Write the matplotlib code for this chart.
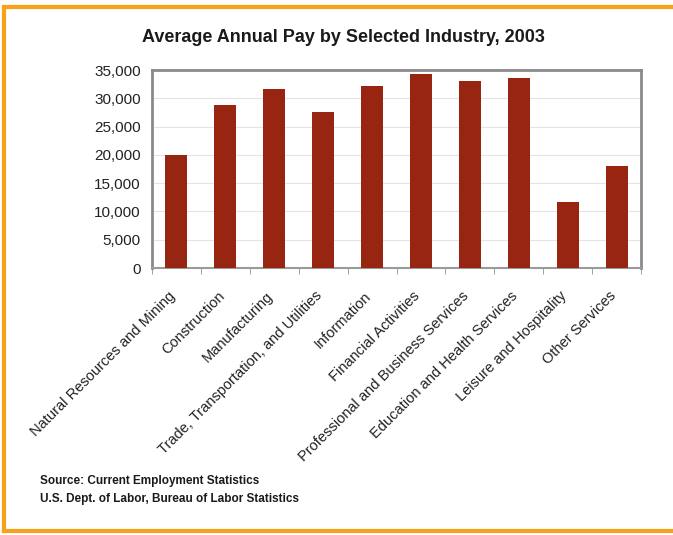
import numpy as np
import matplotlib.pyplot as plt
import matplotlib.transforms as mtransforms
from matplotlib.ticker import FuncFormatter
from matplotlib.lines import Line2D

industries = [
    "Natural Resources and Mining",
    "Construction",
    "Manufacturing",
    "Trade, Transportation, and Utilities",
    "Information",
    "Financial Activities",
    "Professional and Business Services",
    "Education and Health Services",
    "Leisure and Hospitality",
    "Other Services",
]
avg_pay = [19900, 28900, 31600, 27500, 32200, 34300, 33000, 33600, 11600, 18000]
y_ticks = [0, 5000, 10000, 15000, 20000, 25000, 30000, 35000]

plt.rcParams['font.family'] = ['Liberation Sans', 'DejaVu Sans']

fig = plt.figure(figsize=(6.73, 5.35), dpi=100)
ax = fig.add_axes([152 / 673, 1 - 268 / 535, 489 / 673, 198 / 535])

x = np.arange(len(industries))
ax.bar(x, avg_pay, width=0.45, color='#982412', zorder=3)

ax.set_xlim(-0.5, len(industries) - 0.5)
ax.set_ylim(0, 35000)
ax.set_yticks(y_ticks)
ax.yaxis.set_major_formatter(FuncFormatter(lambda v, p: f"{int(v):,}"))
ax.tick_params(axis='y', length=0, labelsize=11, pad=8, colors='#222222')
ax.grid(axis='y', color='#e4e4e4', linewidth=0.8, zorder=0)

# category labels at the bars, ticks between categories
ax.set_xticks(x)
ax.set_xticklabels(industries, rotation=45, ha='right', rotation_mode='anchor',
                   fontsize=10.5, color='#222222')
ax.tick_params(axis='x', which='major', length=0, pad=15)
shift = mtransforms.ScaledTranslation(-8 / 100, 0, fig.dpi_scale_trans)
for lbl in ax.get_xticklabels():
    lbl.set_transform(lbl.get_transform() + shift)
ax.set_xticks(np.arange(len(industries) + 1) - 0.5, minor=True)
ax.tick_params(axis='x', which='minor', length=4, color='#909090', direction='out')

for side in ['top', 'right', 'left']:
    ax.spines[side].set_color('#8a8a8a')
    ax.spines[side].set_linewidth(2)
ax.spines['bottom'].set_color('#9a9a9a')
ax.spines['bottom'].set_linewidth(1.5)

fig.text(343 / 673, 1 - 38 / 535, "Average Annual Pay by Selected Industry, 2003",
         ha='center', va='center', fontsize=13, fontweight='bold', color='#1a1a1a')
fig.text(40 / 673, 1 - 481 / 535, "Source: Current Employment Statistics",
         ha='left', va='center', fontsize=8.5, fontweight='bold', color='#1a1a1a')
fig.text(40 / 673, 1 - 499 / 535, "U.S. Dept. of Labor, Bureau of Labor Statistics",
         ha='left', va='center', fontsize=8.5, fontweight='bold', color='#1a1a1a')

# orange frame, open on the right
frame = dict(color='#f7a21b', linewidth=3, transform=fig.transFigure)
fig.add_artist(Line2D([4 / 673, 1], [1 - 7 / 535, 1 - 7 / 535], **frame))
fig.add_artist(Line2D([4 / 673, 1], [1 - 531 / 535, 1 - 531 / 535], **frame))
fig.add_artist(Line2D([4 / 673, 4 / 673], [1 - 7 / 535, 1 - 531 / 535], **frame))

fig.savefig('out.png', dpi=100)
